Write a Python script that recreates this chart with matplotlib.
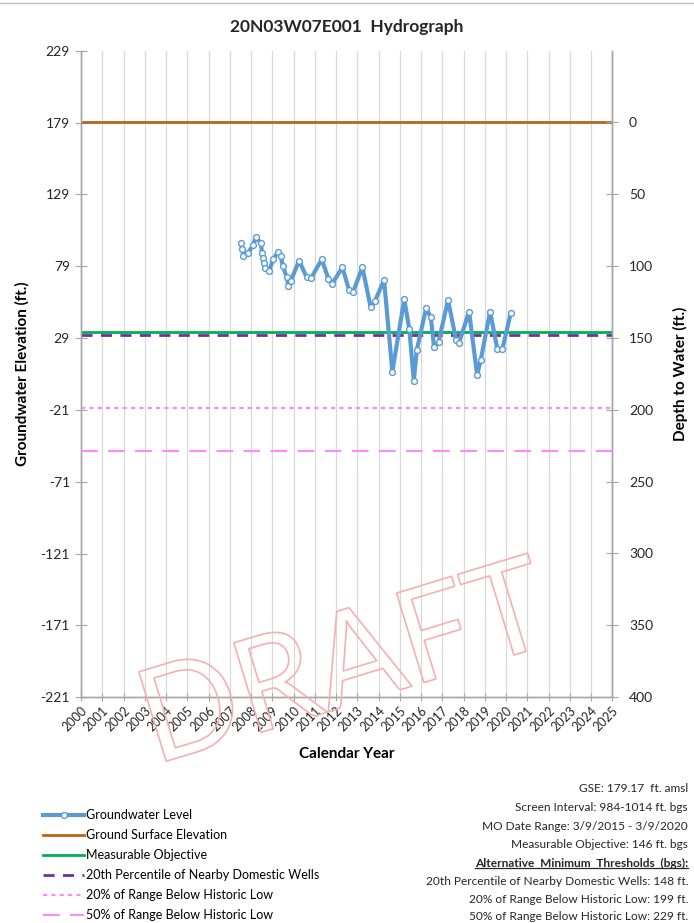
import matplotlib
matplotlib.use("Agg")
import matplotlib.pyplot as plt
import matplotlib.patheffects as pe
from matplotlib.lines import Line2D

plt.rcParams['font.family'] = ['Lato', 'DejaVu Sans']

# ---------------- data ----------------
gse = 179.17
years_axis = list(range(2000, 2026))
left_ticks = [-221, -171, -121, -71, -21, 29, 79, 129, 179, 229]
right_ticks = [0, 50, 100, 150, 200, 250, 300, 350, 400]

gw_dates = [2007.52, 2007.59, 2007.64, 2007.84, 2008.11, 2008.22, 2008.46, 2008.52,
            2008.56, 2008.61, 2008.67, 2008.85, 2009.05, 2009.27, 2009.40, 2009.49,
            2009.68, 2009.76, 2009.87, 2010.26, 2010.62, 2010.82, 2011.33, 2011.64,
            2011.80, 2012.30, 2012.61, 2012.81, 2013.24, 2013.63, 2013.84, 2014.26,
            2014.65, 2015.21, 2015.45, 2015.66, 2015.80, 2016.24, 2016.46, 2016.61,
            2016.83, 2017.27, 2017.65, 2017.79, 2018.26, 2018.64, 2018.81, 2019.25,
            2019.59, 2019.83, 2020.22]
gw_elev = [95.0, 90.8, 86.3, 88.0, 93.8, 99.1, 95.4, 88.0,
           84.5, 81.0, 78.0, 75.9, 83.8, 89.1, 86.1, 79.4,
           71.3, 65.3, 68.7, 82.9, 71.3, 70.6, 83.8, 70.3,
           66.4, 78.3, 62.5, 61.3, 78.3, 50.4, 55.0, 69.4,
           5.6, 56.0, 35.1, -0.6, 20.7, 49.7, 43.5, 23.0,
           26.5, 55.5, 27.7, 25.8, 47.4, 3.3, 13.8, 47.4,
           21.4, 21.4, 46.3]

mo_bgs = 146
pct20_domestic_bgs = 148
range20_bgs = 199
range50_bgs = 229

legend_labels = ["Groundwater Level", "Ground Surface Elevation", "Measurable Objective",
                 "20th Percentile of Nearby Domestic Wells", "20% of Range Below Historic Low",
                 "50% of Range Below Historic Low"]
info_lines = ["GSE: 179.17  ft. amsl", "Screen Interval: 984-1014 ft. bgs",
              "MO Date Range: 3/9/2015 - 3/9/2020", "Measurable Objective: 146 ft. bgs"]
alt_header = "Alternative  Minimum  Thresholds  (bgs):"
alt_lines = ["20th Percentile of Nearby Domestic Wells: 148 ft.",
             "20% of Range Below Historic Low: 199 ft.",
             "50% of Range Below Historic Low: 229 ft."]

# ---------------- styles ----------------
c_gw = '#5B9BD5'
c_gse = '#B8651B'
c_mo = '#00B050'
c_p20 = '#7030A0'
c_pink1 = '#FF88FF'
c_pink2 = '#FF88FF'
grid_c = '#D9D9D9'
spine_c = '#A6A6A6'

fig = plt.figure(figsize=(6.94, 9.23), dpi=100)
W, H = 694, 923
ax = fig.add_axes([81 / W, 1 - 697.3 / H, (612.3 - 81) / W, (697.3 - 50.7) / H])
ax2 = ax.twinx()

xmin, xmax = 2000, 2025
ax.set_xlim(xmin, xmax)
ax.set_ylim(-221, 229)
ax2.set_ylim(gse + 221, gse - 229)

for yr in years_axis[1:]:
    ax.axvline(yr, color=grid_c, lw=0.9, zorder=0)

xs = [xmin, xmax]
ax.plot(xs, [gse, gse], color=c_gse, lw=2.0, zorder=3)
ax.plot(xs, [gse - range20_bgs] * 2, color=c_pink1, lw=1.5, ls=(0, (2, 2)), zorder=3)
ax.plot(xs, [gse - range50_bgs] * 2, color=c_pink2, lw=1.5, ls=(0, (8, 5)), zorder=3)
ax.plot(xs, [gse - pct20_domestic_bgs] * 2, color=c_p20, lw=2.0, ls=(0, (4, 3)), zorder=3)
ax.plot(xs, [gse - mo_bgs] * 2, color=c_mo, lw=2.0, zorder=3)
ax.plot(gw_dates, gw_elev, color=c_gw, lw=3, marker='o', ms=4.2, mfc='white',
        mec=c_gw, mew=1.0, zorder=4)

ax.set_xticks(years_axis)
ax.set_xticklabels([str(y) for y in years_axis], rotation=45, ha='right',
                   rotation_mode='anchor', fontsize=9)
ax.set_yticks(left_ticks)
ax.set_yticklabels([str(v) for v in left_ticks], fontsize=10)
ax2.set_yticks(right_ticks)
ax2.set_yticklabels([str(v) for v in right_ticks], fontsize=10)

for a in (ax, ax2):
    for s in a.spines.values():
        s.set_color(spine_c)
        s.set_linewidth(1.0)
    a.spines['top'].set_visible(False)
ax.tick_params(axis='x', direction='inout', length=6, color=spine_c, pad=2, labelcolor='#262626')
ax.tick_params(axis='y', direction='inout', length=8, color=spine_c, pad=4, labelcolor='#262626')
ax2.tick_params(axis='y', direction='inout', length=8, color=spine_c, pad=8, labelcolor='#262626')

ax.set_ylabel("Groundwater Elevation (ft.)", fontsize=11, fontweight='bold', labelpad=8)
ax2.set_ylabel("Depth to Water (ft.)", fontsize=11, fontweight='bold', rotation=90, labelpad=14)
ax.set_xlabel("Calendar Year", fontsize=11, fontweight='bold', labelpad=10)

fig.text(0.5, 1 - 27 / H, "20N03W07E001  Hydrograph", ha='center', va='center',
         fontsize=12.5, fontweight='bold', color='#262626')

# DRAFT watermark
fig.text(345 / W, 1 - 668 / H, "DRAFT", ha='center', va='center', fontsize=94,
         rotation=17, color=(1, 1, 1, 0), zorder=1,
         path_effects=[pe.Stroke(linewidth=1.2, foreground='#F6AFAF')])

# top border line
fig.add_artist(Line2D([0, 1], [1 - 3 / H, 1 - 3 / H], color='#BFBFBF', lw=1.0,
                      transform=fig.transFigure))

# legend
handles = [
    Line2D([], [], color=c_gw, lw=3, marker='o', ms=4.2, mfc='white', mec=c_gw, mew=1.0),
    Line2D([], [], color=c_gse, lw=2),
    Line2D([], [], color=c_mo, lw=2),
    Line2D([], [], color=c_p20, lw=2, ls=(0, (4, 3))),
    Line2D([], [], color=c_pink1, lw=1.5, ls=(0, (2, 2))),
    Line2D([], [], color=c_pink2, lw=1.5, ls=(0, (8, 5))),
]
fig.legend(handles, legend_labels, loc='upper left', bbox_to_anchor=(43 / W, 1 - 809 / H),
           frameon=False, fontsize=9, numpoints=1, handlelength=3.3, handletextpad=0.15,
           labelspacing=0.64, borderaxespad=0, borderpad=0)

# info text block
x_r = 688 / W
ys = [789, 807.5, 826, 844.5]
for t, yy in zip(info_lines, ys):
    fig.text(x_r, 1 - yy / H, t, ha='right', va='center', fontsize=8.6, color='#262626')
hdr = fig.text(x_r, 1 - 863 / H, alt_header, ha='right', va='center', fontsize=8.6,
               fontweight='bold', color='#262626')
for t, yy in zip(alt_lines, [881.5, 899.5, 916.5]):
    fig.text(x_r, 1 - yy / H, t, ha='right', va='center', fontsize=8.6, color='#262626')

fig.canvas.draw()
bb = hdr.get_window_extent().transformed(fig.transFigure.inverted())
fig.add_artist(Line2D([bb.x0, bb.x1], [bb.y0 + 0.001, bb.y0 + 0.001], color='#262626',
                      lw=0.9, transform=fig.transFigure))

fig.savefig("out.png", dpi=100)
